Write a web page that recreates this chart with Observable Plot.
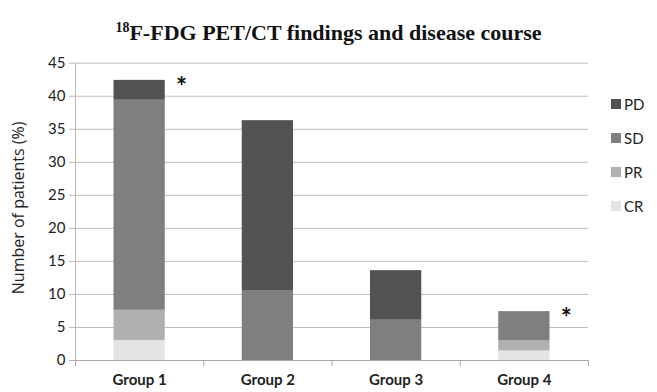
<!DOCTYPE html>
<html>
<head>
<meta charset="utf-8">
<script src="https://cdn.jsdelivr.net/npm/d3@7"></script>
<script src="https://cdn.jsdelivr.net/npm/@observablehq/plot@0.6"></script>
<style>
  html, body { margin: 0; padding: 0; background: #fff; }
  #wrap { position: relative; width: 657px; height: 392px; overflow: hidden; }
  #title { position: absolute; left: 0; top: 0; width: 657px; height: 50px; text-align: center;
    font-family: "Liberation Serif", "Times New Roman", serif; font-weight: bold; font-size: 22px; line-height: 66px; color: #111; }
  #title sup { font-size: 14px; vertical-align: 0; position: relative; top: -8px; }
  #chart { position: absolute; left: 0; top: 50px; }
  #legend { position: absolute; left: 611px; top: 95px; font-family: Lato, "Open Sans", sans-serif; font-size: 15px; color: #222; }
  .item { height: 34px; display: flex; align-items: flex-start; }
  .sw { width: 10px; height: 10px; margin-right: 3px; margin-top: 4px; }
</style>
</head>
<body>
<div id="wrap">
  <div id="title"><sup>18</sup>F-FDG PET/CT findings and disease course</div>
  <div id="chart"></div>
  <div id="legend"></div>
</div>
<script>
const groups = ["Group 1", "Group 2", "Group 3", "Group 4"];
const statuses = ["CR", "PR", "SD", "PD"];            // stacking order, bottom to top
const legendOrder = ["PD", "SD", "PR", "CR"];
const colors = ["#e4e4e4", "#b0b0b0", "#7f7f7f", "#525252"];
const CR = [3.0, 0, 0, 1.45];
const PR = [4.6, 0, 0, 1.5];
const SD = [31.8, 10.6, 6.1, 4.45];
const PD = [3.0, 25.7, 7.5, 0];
const yTicks = [0, 5, 10, 15, 20, 25, 30, 35, 40, 45];
const yLabel = "Number of patients (%)";
const starGroups = [0, 3];

const series = {CR, PR, SD, PD};
const rows = [];
statuses.forEach(s => groups.forEach((g, i) => rows.push({gi: i, group: g, status: s, value: series[s][i]})));
const totals = groups.map((g, i) => statuses.reduce((a, s) => a + series[s][i], 0));
const stars = starGroups.map(i => ({gi: i, total: totals[i]}));

const plot = Plot.plot({
  width: 657,
  height: 342,
  marginLeft: 75,
  marginRight: 69,
  marginTop: 12.7,
  marginBottom: 32,
  style: {fontFamily: "Lato, 'Open Sans', sans-serif", fontSize: "15px", color: "#222", background: "transparent", overflow: "visible"},
  x: {domain: [0, 4], axis: null},
  y: {domain: [0, 45], axis: null},
  color: {domain: statuses, range: colors},
  marks: [
    Plot.ruleY(yTicks.filter(t => t > 0), {stroke: "#bdbdbd", strokeWidth: 1}),
    Plot.rectY(rows, {x1: "gi", x2: d => d.gi + 1, y: "value", fill: "status", order: statuses, insetLeft: 38.5, insetRight: 38.5}),
    Plot.ruleY([0], {stroke: "#a8a8a8"}),
    Plot.ruleX([0], {stroke: "#b8b8b8"}),
    Plot.axisY({ticks: yTicks, tickSize: 6, tickPadding: 4, stroke: "#b8b8b8", fontSize: 15, label: null}),
    Plot.text([yLabel], {frameAnchor: "left", text: d => d, rotate: -90, textAnchor: "middle", lineAnchor: "middle", dx: -57, dy: -4, fontSize: 16, fontFamily: "'Open Sans', sans-serif", fill: "#222"}),
    Plot.axisX({ticks: [0, 1, 2, 3, 4], tickSize: 6, stroke: "#a8a8a8", tickFormat: () => "", label: null}),
    Plot.axisX({ticks: [0.5, 1.5, 2.5, 3.5], tickSize: 0, tickPadding: 14, tickFormat: d => groups[Math.floor(d)], fontWeight: "bold", fontSize: 15, label: null}),
    Plot.text(stars, {x: d => d.gi + 0.5, y: "total", text: () => "*", dx: 42, dy: 7, fontSize: 26, fontWeight: "bold", fill: "#111"})
  ]
});
document.getElementById("chart").appendChild(plot);

const leg = document.getElementById("legend");
legendOrder.forEach(s => {
  const d = document.createElement("div");
  d.className = "item";
  d.innerHTML = `<div class="sw" style="background:${colors[statuses.indexOf(s)]}"></div><span>${s}</span>`;
  leg.appendChild(d);
});
</script>
</body>
</html>
